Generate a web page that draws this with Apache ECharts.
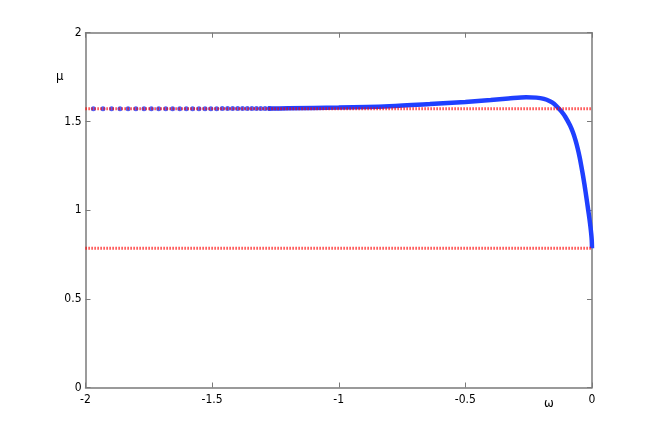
<!DOCTYPE html>
<html><head><meta charset="utf-8">
<script src="https://cdn.jsdelivr.net/npm/echarts@6/dist/echarts.min.js"></script>
<style>html,body{margin:0;padding:0;background:#fff}#c{width:654px;height:436px}</style>
</head><body><div id="c"></div>
<script>
// blue solution: sparse dots on the left (omega, mu)
var dotOmega = [-1.969,-1.931,-1.897,-1.864,-1.832,-1.801,-1.769,-1.740,-1.711,-1.683,-1.656,-1.628,-1.602,-1.577,
  -1.552,-1.528,-1.505,-1.482,-1.460,-1.439,-1.419,-1.399,-1.380,-1.361,-1.343,-1.325,-1.308,-1.291,-1.274];
var dotMu = [1.5712,1.5712,1.5713,1.5713,1.5714,1.5714,1.5715,1.5715,1.5716,1.5716,1.5717,1.5717,1.5718,1.5718,
  1.5719,1.5719,1.5720,1.5720,1.5721,1.5721,1.5722,1.5722,1.5723,1.5723,1.5724,1.5724,1.5725,1.5725,1.5726];
// blue solution: dense (continuous) part
var curveOmega = [-1.28,-1.20,-1.00,-0.80,-0.64,-0.50,-0.40,-0.33,-0.26,-0.22,-0.19,-0.166,-0.150,-0.136,-0.120,-0.105,-0.087,-0.075,-0.065,-0.057,-0.049,-0.042,-0.035,-0.030,-0.025,-0.020,-0.015,-0.010,-0.006,-0.003,-0.001,0];
var curveMu    = [1.5726,1.574,1.578,1.586,1.598,1.610,1.621,1.629,1.636,1.634,1.627,1.614,1.600,1.580,1.555,1.525,1.478,1.437,1.393,1.350,1.299,1.247,1.190,1.146,1.099,1.050,1.000,0.950,0.905,0.865,0.830,0.785];
// reference levels pi/2 and pi/4
var refOmega = [-2, 0];
var refHigh = [1.5708, 1.5708];
var refLow = [0.7854, 0.7854];
var xTicks = [-2,-1.5,-1,-0.5,0];
var yTicks = [0,0.5,1,1.5,2];

function zip(a,b){return a.map(function(v,i){return [v,b[i]];});}

var axisCol = '#7a7a7a';
var font = '"Liberation Sans Narrow","DejaVu Sans Condensed","Liberation Sans",sans-serif';
var chart = echarts.init(document.getElementById('c'), null, {renderer:'canvas'});
function common(){ return {
  axisLine:{show:true,onZero:false,lineStyle:{color:axisCol,width:1.5}},
  axisTick:{show:true,inside:true,length:5,lineStyle:{color:axisCol}},
  splitLine:{show:false}
};}
chart.setOption({
  animation:false,
  backgroundColor:'#fff',
  grid:{left:85.5,right:62,top:32.7,bottom:48.5,containLabel:false},
  xAxis:[
    Object.assign({type:'value',min:xTicks[0],max:xTicks[xTicks.length-1],interval:0.5,position:'bottom',
      axisLabel:{color:'#000',fontFamily:font,fontSize:12,margin:6,
        formatter:function(v){return String(v);}}},common()),
    Object.assign({type:'value',min:-2,max:0,interval:0.5,position:'top',axisLabel:{show:false}},common())
  ],
  yAxis:[
    Object.assign({type:'value',min:yTicks[0],max:yTicks[yTicks.length-1],interval:0.5,position:'left',
      axisLabel:{color:'#000',fontFamily:font,fontSize:12,margin:4,
        formatter:function(v){return String(v);}}},common()),
    Object.assign({type:'value',min:0,max:2,interval:0.5,position:'right',axisLabel:{show:false}},common())
  ],
  graphic:[
    {type:'text',left:56,top:70,style:{text:'μ',font:'13px '+font,fill:'#000'}},
    {type:'text',left:544,top:397,style:{text:'ω',font:'13px '+font,fill:'#000'}}
  ],
  series:[
    {type:'scatter',data:zip(dotOmega,dotMu),symbol:'circle',symbolSize:5,
      itemStyle:{color:'#1f3fff'},z:2},
    {type:'line',data:zip(curveOmega,curveMu),showSymbol:false,smooth:0.3,
      lineStyle:{color:'#1f3fff',width:4.5},z:2},
    {type:'line',data:zip(refOmega,refHigh),showSymbol:false,
      lineStyle:{color:'#ff0000',width:3,type:[1.2,1.8],opacity:0.9},z:3},
    {type:'line',data:zip(refOmega,refLow),showSymbol:false,
      lineStyle:{color:'#ff0000',width:3,type:[1.2,1.8],opacity:0.9},z:3}
  ]
});
</script></body></html>
